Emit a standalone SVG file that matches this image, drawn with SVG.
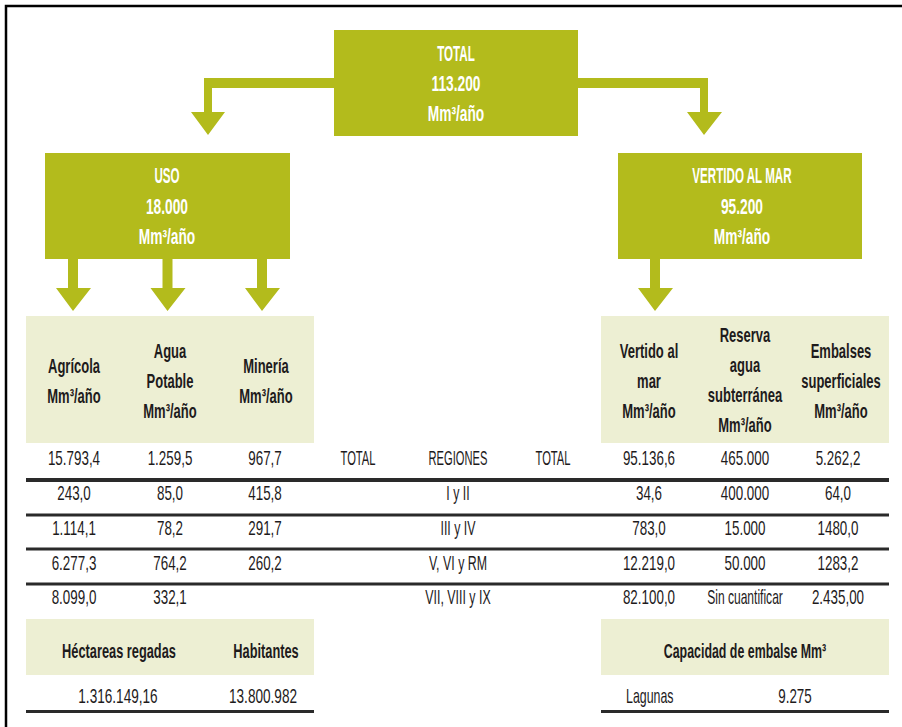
<svg xmlns="http://www.w3.org/2000/svg" width="902" height="727" viewBox="0 0 902 727">
  <style>
    .g { fill: #b3bb1c; }
    .lt { fill: #edefd3; }
    .rule { stroke: #2a2a2a; fill: none; }
    text { font-family: "Liberation Sans", Arial, sans-serif; text-anchor: middle; }
    .ttl { fill: #ffffff; font-weight: bold; font-size: 21.5px; }
    .hd { fill: #1e1b1c; font-weight: bold; font-size: 20px; }
    .d { fill: #1e1b1c; font-size: 20px; }
  </style>

  <rect width="902" height="727" fill="#ffffff"/>
  <!-- outer frame: left and top edges only -->
  <path d="M6,727 V6 H902" stroke="#000" stroke-width="2.5" fill="none"/>

  <!-- flow arrows -->
  <g id="connectors">
    <path class="g" d="M334,78 H204 V112 H191 L208,135 L225,112 H212 V88 H334 Z"/>
    <path class="g" d="M578,78 H708 V112 H722 L704,135 L687,112 H700 V88 H578 Z"/>
    <path class="g" d="M68,259 H78 V288 H91 L73,311 L56,288 H68 Z"/>
    <path class="g" d="M162.5,259 H172.5 V288 H185.5 L167.5,311 L150.5,288 H162.5 Z"/>
    <path class="g" d="M257,259 H267 V288 H280 L262,311 L245,288 H257 Z"/>
    <path class="g" d="M650,259 H660 V288 H673 L655,311 L638,288 H650 Z"/>
  </g>

  <g id="total">
    <rect class="g" x="334" y="30" width="244" height="106"/>
    <text class="ttl" transform="translate(456 61) scale(.54 1)">TOTAL</text>
    <text class="ttl" transform="translate(456 91) scale(.64 1)">113.200</text>
    <text class="ttl" transform="translate(456 121) scale(.64 1)">Mm³/año</text>
  </g>

  <g id="uso">
    <rect class="g" x="45" y="153" width="245" height="106"/>
    <text class="ttl" transform="translate(167 183) scale(.54 1)">USO</text>
    <text class="ttl" transform="translate(167 214) scale(.64 1)">18.000</text>
    <text class="ttl" transform="translate(167 244) scale(.64 1)">Mm³/año</text>
  </g>

  <g id="vertido">
    <rect class="g" x="618" y="153" width="244" height="106"/>
    <text class="ttl" transform="translate(742 183) scale(.54 1)">VERTIDO AL MAR</text>
    <text class="ttl" transform="translate(742 214) scale(.64 1)">95.200</text>
    <text class="ttl" transform="translate(742 244) scale(.64 1)">Mm³/año</text>
  </g>

  <!-- use categories header -->
  <g id="uso-header">
    <rect class="lt" x="26" y="316" width="288" height="127"/>
    <text class="hd" transform="translate(74 0) scale(.65 1)"><tspan x="0" y="373">Agrícola</tspan><tspan x="0" y="403">Mm³/año</tspan></text>
    <text class="hd" transform="translate(170 0) scale(.65 1)"><tspan x="0" y="358">Agua</tspan><tspan x="0" y="388">Potable</tspan><tspan x="0" y="418">Mm³/año</tspan></text>
    <text class="hd" transform="translate(266 0) scale(.65 1)"><tspan x="0" y="373">Minería</tspan><tspan x="0" y="403">Mm³/año</tspan></text>
  </g>

  <!-- discharge categories header -->
  <g id="vertido-header">
    <rect class="lt" x="601" y="316" width="288" height="127"/>
    <text class="hd" transform="translate(649 0) scale(.65 1)"><tspan x="0" y="358">Vertido al</tspan><tspan x="0" y="388">mar</tspan><tspan x="0" y="418">Mm³/año</tspan></text>
    <text class="hd" transform="translate(745 0) scale(.65 1)"><tspan x="0" y="342">Reserva</tspan><tspan x="0" y="372">agua</tspan><tspan x="0" y="402">subterránea</tspan><tspan x="0" y="432">Mm³/año</tspan></text>
    <text class="hd" transform="translate(841 0) scale(.65 1)"><tspan x="0" y="358">Embalses</tspan><tspan x="0" y="388">superficiales</tspan><tspan x="0" y="418">Mm³/año</tspan></text>
  </g>

  <!-- regional table -->
  <g id="table">
    <line class="rule" x1="26" y1="480" x2="889" y2="480" stroke-width="4"/>
    <line class="rule" x1="26" y1="515" x2="889" y2="515" stroke-width="3"/>
    <line class="rule" x1="26" y1="549" x2="889" y2="549" stroke-width="3"/>
    <line class="rule" x1="26" y1="584" x2="889" y2="584" stroke-width="3"/>

    <g class="col" transform="translate(74 0) scale(.67 1)">
      <text class="d" x="0" y="465">15.793,4</text>
      <text class="d" x="0" y="500">243,0</text>
      <text class="d" x="0" y="535">1.114,1</text>
      <text class="d" x="0" y="570">6.277,3</text>
      <text class="d" x="0" y="604">8.099,0</text>
    </g>
    <g class="col" transform="translate(170 0) scale(.67 1)">
      <text class="d" x="0" y="465">1.259,5</text>
      <text class="d" x="0" y="500">85,0</text>
      <text class="d" x="0" y="535">78,2</text>
      <text class="d" x="0" y="570">764,2</text>
      <text class="d" x="0" y="604">332,1</text>
    </g>
    <g class="col" transform="translate(265 0) scale(.67 1)">
      <text class="d" x="0" y="465">967,7</text>
      <text class="d" x="0" y="500">415,8</text>
      <text class="d" x="0" y="535">291,7</text>
      <text class="d" x="0" y="570">260,2</text>
    </g>
    <text class="d" transform="translate(358 465) scale(.56 1)">TOTAL</text>
    <g class="col" transform="translate(458 0) scale(.62 1)">
      <text class="d" x="0" y="465" transform="scale(.9 1)">REGIONES</text>
      <text class="d" x="0" y="500">I y II</text>
      <text class="d" x="0" y="535">III y IV</text>
      <text class="d" x="0" y="570">V, VI y RM</text>
      <text class="d" x="0" y="604">VII, VIII y IX</text>
    </g>
    <text class="d" transform="translate(553 465) scale(.56 1)">TOTAL</text>
    <g class="col" transform="translate(649 0) scale(.67 1)">
      <text class="d" x="0" y="465">95.136,6</text>
      <text class="d" x="0" y="500">34,6</text>
      <text class="d" x="0" y="535">783,0</text>
      <text class="d" x="0" y="570">12.219,0</text>
      <text class="d" x="0" y="604">82.100,0</text>
    </g>
    <g class="col" transform="translate(745 0) scale(.67 1)">
      <text class="d" x="0" y="465">465.000</text>
      <text class="d" x="0" y="500">400.000</text>
      <text class="d" x="0" y="535">15.000</text>
      <text class="d" x="0" y="570">50.000</text>
      <text class="d" x="0" y="604" transform="scale(.9 1)">Sin cuantificar</text>
    </g>
    <g class="col" transform="translate(838 0) scale(.67 1)">
      <text class="d" x="0" y="465">5.262,2</text>
      <text class="d" x="0" y="500">64,0</text>
      <text class="d" x="0" y="535">1480,0</text>
      <text class="d" x="0" y="570">1283,2</text>
      <text class="d" x="0" y="604">2.435,00</text>
    </g>
  </g>

  <!-- irrigated area and population -->
  <g id="riego">
    <rect class="lt" x="26" y="619" width="288" height="56"/>
    <text class="hd" transform="translate(119 658) scale(.64 1)">Héctareas regadas</text>
    <text class="hd" transform="translate(266 658) scale(.64 1)">Habitantes</text>
    <text class="d" transform="translate(118 703) scale(.68 1)">1.316.149,16</text>
    <text class="d" transform="translate(263 703) scale(.68 1)">13.800.982</text>
    <line class="rule" x1="26" y1="711.5" x2="314" y2="711.5" stroke-width="3"/>
  </g>

  <!-- reservoir capacity -->
  <g id="capacidad">
    <rect class="lt" x="601" y="619" width="288" height="56"/>
    <text class="hd" transform="translate(745 658) scale(.62 1)">Capacidad de embalse Mm³</text>
    <text class="d" transform="translate(626 703) scale(.62 1)" style="text-anchor:start">Lagunas</text>
    <text class="d" transform="translate(795 703) scale(.67 1)">9.275</text>
    <line class="rule" x1="601" y1="711.5" x2="889" y2="711.5" stroke-width="3"/>
  </g>
</svg>
